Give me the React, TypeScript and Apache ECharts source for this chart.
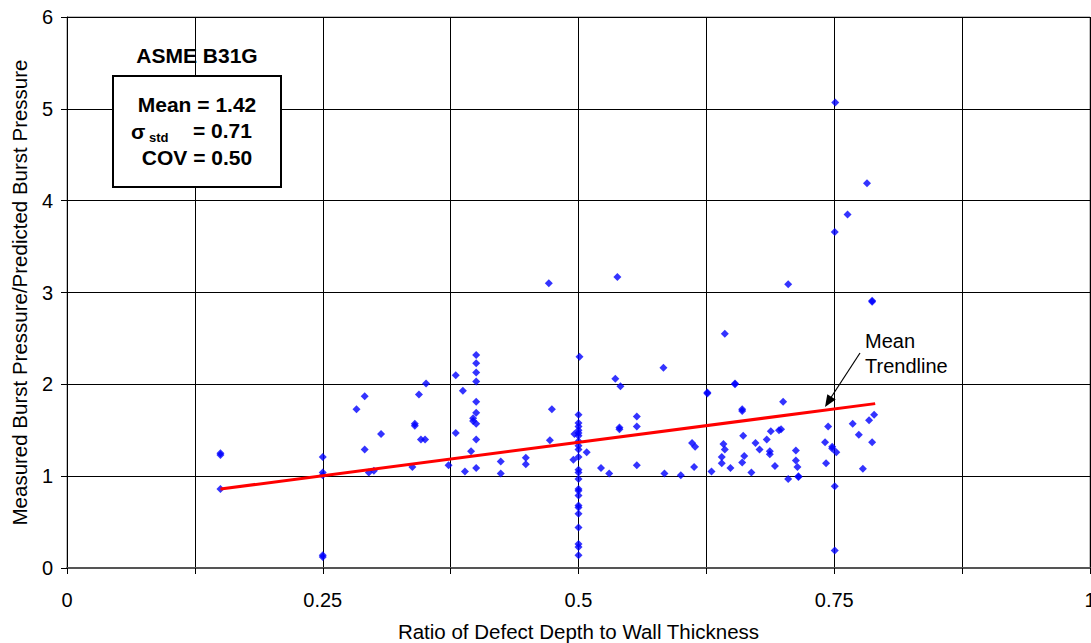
import React, { useEffect, useRef } from "react";
import * as echarts from "echarts";

// Ratio of defect depth to wall thickness (x) and measured/predicted burst pressure (y)
const depthRatio: number[] = [
  0.15, 0.15, 0.15,
  0.25, 0.25, 0.25, 0.25, 0.25,
  0.283, 0.291, 0.291, 0.295, 0.30, 0.307,
  0.3376, 0.34, 0.34, 0.344, 0.346, 0.35, 0.351,
  0.373, 0.38, 0.38, 0.387, 0.389, 0.395, 0.397, 0.397,
  0.40, 0.40, 0.40, 0.40, 0.40, 0.40, 0.40, 0.40, 0.40,
  0.424, 0.424, 0.4485, 0.4485,
  0.471, 0.472, 0.474, 0.495, 0.496,
  0.5, 0.5, 0.5, 0.5, 0.5, 0.5, 0.5, 0.5, 0.5, 0.5, 0.5, 0.5,
  0.5, 0.5, 0.5, 0.5, 0.5, 0.5, 0.5, 0.5, 0.5, 0.5, 0.5,
  0.501, 0.508, 0.522, 0.53, 0.536, 0.538, 0.54, 0.54, 0.541,
  0.557, 0.557, 0.557, 0.583, 0.584, 0.60,
  0.611, 0.614, 0.613, 0.626, 0.626, 0.63,
  0.6417, 0.643, 0.64, 0.64, 0.643, 0.6485, 0.653, 0.653,
  0.66, 0.66, 0.66, 0.661, 0.662, 0.669, 0.673, 0.677, 0.684,
  0.687, 0.687, 0.688, 0.692, 0.696, 0.698, 0.70,
  0.705, 0.705, 0.7125, 0.7125, 0.714, 0.715, 0.715,
  0.741, 0.742, 0.744, 0.748, 0.748,
  0.7505, 0.7505, 0.7505, 0.751, 0.752, 0.763, 0.768, 0.774, 0.778,
  0.782, 0.784, 0.787, 0.787, 0.787, 0.789,
];

const pressureRatio: number[] = [
  1.25, 1.23, 0.86,
  1.21, 1.04, 1.01, 0.14, 0.12,
  1.73, 1.87, 1.29, 1.04, 1.06, 1.46,
  1.10, 1.57, 1.55, 1.89, 1.40, 1.40, 2.01,
  1.12, 2.10, 1.47, 1.93, 1.05, 1.27, 1.63, 1.60,
  2.32, 2.23, 2.13, 2.03, 1.81, 1.69, 1.57, 1.40, 1.09,
  1.16, 1.03, 1.20, 1.13,
  3.10, 1.39, 1.73, 1.18, 1.46,
  1.67, 1.58, 1.54, 1.50, 1.47, 1.44, 1.38, 1.33, 1.29, 1.21, 1.07, 1.04,
  0.97, 0.86, 0.84, 0.79, 0.68, 0.66, 0.59, 0.44, 0.26, 0.23, 0.14,
  2.30, 1.26, 1.09, 1.03, 2.06, 3.17, 1.53, 1.51, 1.98,
  1.65, 1.54, 1.12, 2.18, 1.03, 1.01,
  1.36, 1.32, 1.10, 1.90, 1.91, 1.05,
  1.35, 1.29, 1.21, 1.14, 2.55, 1.09, 2.01, 2.00,
  1.73, 1.71, 1.15, 1.44, 1.22, 1.04, 1.36, 1.29, 1.40,
  1.27, 1.24, 1.49, 1.11, 1.50, 1.51, 1.81,
  3.09, 0.97, 1.28, 1.17, 1.10, 1.00, 0.99,
  1.37, 1.14, 1.54, 1.32, 1.30,
  3.66, 0.89, 0.19, 5.07, 1.26, 3.85, 1.57, 1.45, 1.08,
  4.19, 1.61, 2.90, 2.91, 1.37, 1.67,
];

// Mean trendline end points
const trendX: number[] = [0.15, 0.79];
const trendY: number[] = [0.86, 1.79];

const xTickLabels: string[] = ["0", "0.25", "0.5", "0.75", "1"];

const FONT = "'Liberation Sans', Arial, sans-serif";

export default function App() {
  const ref = useRef<HTMLDivElement>(null);

  useEffect(() => {
    document.body.style.margin = "0";
    document.body.style.overflow = "hidden";
    if (!ref.current) return;
    const chart = echarts.init(ref.current, undefined, { renderer: "svg", width: 1091, height: 643 });

    const scatterData = depthRatio.map((x, i) => [x, pressureRatio[i]]);
    const trendData = trendX.map((x, i) => [x, trendY[i]]);

    const tip = [825, 407];
    const ax = [860, 353];

    const boxText = (text: string, x: number, y: number, align: string, size = 21) => ({
      type: "text",
      x,
      y,
      style: {
        text,
        font: `bold ${size}px ${FONT}`,
        fill: "#000",
        align,
        verticalAlign: "middle",
      },
      z: 11,
    });

    chart.setOption({
      animation: false,
      backgroundColor: "#ffffff",
      textStyle: { fontFamily: FONT },
      grid: {
        left: 67,
        top: 17,
        width: 1023,
        height: 551,
        containLabel: false,
        outerBoundsMode: "none",
        show: true,
        borderColor: "#808080",
        borderWidth: 1,
        backgroundColor: "transparent",
      },
      xAxis: {
        type: "value",
        min: 0,
        max: 1,
        interval: 0.125,
        name: "Ratio of Defect Depth to Wall Thickness",
        nameLocation: "middle",
        nameGap: 53,
        nameTextStyle: { fontFamily: FONT, fontSize: 20.5, color: "#000" },
        axisLine: { show: true, onZero: false, lineStyle: { color: "#555", width: 2 } },
        axisTick: { show: true, length: 6, inside: false, lineStyle: { color: "#000" } },
        axisLabel: {
          fontFamily: FONT,
          fontSize: 20,
          color: "#000",
          margin: 22,
          showMaxLabel: true,
          formatter: (v: number) => {
            const idx = Math.round(v * 4);
            if (Math.abs(v * 4 - idx) < 1e-6) return xTickLabels[idx];
            return "";
          },
        },
        splitLine: { show: true, lineStyle: { color: "#000", width: 1 } },
      },
      yAxis: {
        type: "value",
        min: 0,
        max: 6,
        interval: 1,
        name: "Measured Burst Pressure/Predicted Burst Pressure",
        nameLocation: "middle",
        nameGap: 37,
        nameTextStyle: { fontFamily: FONT, fontSize: 20.5, color: "#000" },
        axisLine: { show: true, lineStyle: { color: "#000", width: 1 } },
        axisTick: { show: true, length: 6, inside: false, lineStyle: { color: "#000" } },
        axisLabel: { fontFamily: FONT, fontSize: 20, color: "#000", margin: 14 },
        splitLine: { show: true, lineStyle: { color: "#000", width: 1 } },
      },
      series: [
        {
          type: "scatter",
          data: scatterData,
          symbol: "diamond",
          symbolSize: 8,
          itemStyle: { color: "#0000ff" },
          z: 3,
        },
        {
          type: "line",
          data: trendData,
          symbol: "none",
          lineStyle: { color: "#ff0000", width: 3 },
          z: 4,
        },
      ],
      graphic: [
        boxText("ASME B31G", 197, 55, "center"),
        {
          type: "rect",
          shape: { x: 113, y: 76, width: 168, height: 111 },
          style: { fill: "#fff", stroke: "#000", lineWidth: 2 },
          z: 10,
        },
        boxText("Mean = 1.42", 197, 104, "center"),
        boxText("σ", 131, 131, "left"),
        boxText("std", 149, 137, "left", 13),
        boxText("= 0.71", 193, 130, "left"),
        boxText("COV = 0.50", 197, 157, "center"),
        {
          type: "text",
          x: 865,
          y: 341,
          style: {
            text: "Mean",
            font: `20px ${FONT}`,
            fill: "#000",
            align: "left",
            verticalAlign: "middle",
          },
          z: 11,
        },
        {
          type: "text",
          x: 865,
          y: 366,
          style: {
            text: "Trendline",
            font: `20px ${FONT}`,
            fill: "#000",
            align: "left",
            verticalAlign: "middle",
          },
          z: 11,
        },
        {
          type: "line",
          shape: { x1: ax[0], y1: ax[1], x2: 830, y2: 399 },
          style: { stroke: "#000", lineWidth: 1.2 },
          z: 11,
        },
        {
          type: "polygon",
          shape: { points: [tip, [835.7, 399.6], [827.3, 394.2]] },
          style: { fill: "#000" },
          z: 11,
        },
      ],
    });

    return () => chart.dispose();
  }, []);

  return (
    <div
      ref={ref}
      style={{ position: "fixed", left: 0, top: 0, width: 1091, height: 643 }}
    />
  );
}
